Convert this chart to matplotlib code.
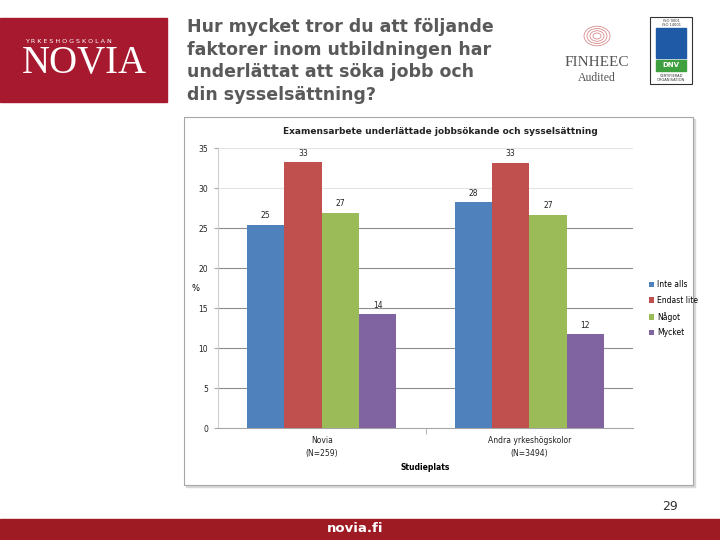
import numpy as np
import matplotlib
matplotlib.use("Agg")
import matplotlib.pyplot as plt
from matplotlib.patches import Rectangle, Circle

# data
groups = ["Novia\n(N=259)", "Andra yrkeshögskolor\n(N=3494)"]
series = ["Inte alls", "Endast lite", "Något", "Mycket"]
novia = [25.4, 33.2, 26.9, 14.2]
andra = [28.2, 33.1, 26.6, 11.7]
yticks = [0, 5, 10, 15, 20, 25, 30, 35]
colors = ["#4F81BD", "#C0504D", "#9BBB59", "#8064A2"]

W, H = 720, 540
def fx(x): return x / W
def fy(y): return 1 - y / H

fig = plt.figure(figsize=(7.2, 5.4), dpi=100)
fig.patch.set_facecolor("white")

# slide header: Novia logo
fig.patches.append(Rectangle((0, fy(102)), fx(167), (102 - 18) / H,
                             transform=fig.transFigure, color="#A6192E", zorder=0))
fig.text(fx(25), fy(42), "Y R K E S H O G S K O L A N", color="white", fontsize=4.6,
         va="center", ha="left")
fig.text(fx(22), fy(64), "NOVIA", color="white", fontsize=28, family="Liberation Serif",
         va="center", ha="left")

# slide title
fig.text(fx(187), fy(18), "Hur mycket tror du att följande\nfaktorer inom utbildningen har\n"
         "underlättat att söka jobb och\ndin sysselsättning?",
         fontsize=12.5, fontweight="bold", color="#595959", family="DejaVu Sans",
         va="top", ha="left", linespacing=1.33)

# FINHEEC logo
for r in [4, 7, 10, 13]:
    fig.patches.append(Circle((fx(597), fy(36)), r / W, transform=fig.transFigure,
                              fill=False, ec="#D98C8C", lw=0.6))
fig.text(fx(597), fy(63), "FINHEEC", fontsize=11, family="Liberation Serif",
         color="#555555", ha="center", va="center")
fig.text(fx(597), fy(78), "Audited", fontsize=8.5, family="Liberation Serif",
         color="#555555", ha="center", va="center")

# DNV logo
fig.patches.append(Rectangle((fx(650), fy(84)), fx(42), 67 / H, transform=fig.transFigure,
                             fill=False, ec="#333333", lw=0.8))
fig.text(fx(671), fy(23), "ISO 9001\nISO 14001", fontsize=2.6, ha="center", va="center",
         color="#333333", linespacing=1.0)
fig.patches.append(Rectangle((fx(656), fy(58)), fx(30), 30 / H, transform=fig.transFigure,
                             color="#1F5AA6"))
fig.patches.append(Rectangle((fx(656), fy(71)), fx(30), 11 / H, transform=fig.transFigure,
                             color="#3FA040"))
fig.text(fx(671), fy(65.5), "DNV", fontsize=5, fontweight="bold", color="white",
         ha="center", va="center")
fig.text(fx(671), fy(78), "CERTIFIERAD\nORGANISATION", fontsize=2.6, ha="center",
         va="center", color="#333333", linespacing=1.0)

# chart frame
fig.patches.append(Rectangle((fx(186), fy(487)), fx(509), 368 / H, transform=fig.transFigure,
                             color="#D8D8D8", zorder=0))
fig.patches.append(Rectangle((fx(184), fy(485)), fx(509), 368 / H, transform=fig.transFigure,
                             fc="white", ec="#A6A6A6", lw=0.8, zorder=0))

ax = fig.add_axes([fx(218), fy(428), fx(415), 280 / H])
ax.set_zorder(5)
ax.set_facecolor("none")
x = np.arange(len(groups))
bw = 0.18
for i, name in enumerate(series):
    vals = [novia[i], andra[i]]
    pos = x + (i - 1.5) * bw
    ax.bar(pos, vals, width=bw, color=colors[i], label=name, zorder=3)
    for p, v in zip(pos, vals):
        ax.text(p, v + 0.6, f"{v:.0f}", ha="center", va="bottom", fontsize=5.5,
                color="#222222", zorder=4)

ax.set_xlim(-0.5, 1.5)
ax.set_ylim(0, 35)
ax.set_yticks(yticks)
ax.set_yticklabels([str(t) for t in yticks], fontsize=5.5, color="#222222")
ax.tick_params(axis="y", length=3, color="#A6A6A6", pad=4)
for t in yticks[1:]:
    ax.axhline(t, color="#8C8C8C" if t <= 25 else "#E3E3E3", lw=0.8, zorder=1)
ax.set_xticks(x)
ax.set_xticklabels(groups, fontsize=5.5, color="#222222", linespacing=1.5)
ax.tick_params(axis="x", length=0, pad=6)
ax.set_xticks([0.5], minor=True)
ax.tick_params(axis="x", which="minor", length=4, color="#A6A6A6")
for s in ["top", "right"]:
    ax.spines[s].set_visible(False)
ax.spines["left"].set_color("#D0D0D0")
ax.spines["bottom"].set_color("#A6A6A6")
ax.set_ylabel("%", rotation=0, fontsize=6, labelpad=2, va="center")
ax.set_xlabel("Studieplats", fontsize=5.5, fontweight="bold", labelpad=4)

fig.text(fx(440), fy(131), "Examensarbete underlättade jobbsökande och sysselsättning",
         fontsize=6.5, fontweight="bold", ha="center", va="center", color="#222222")

fig.legend(loc="upper left", bbox_to_anchor=(fx(642), fy(273)), frameon=False,
           fontsize=5.5, handlelength=0.7, handleheight=0.7, handletextpad=0.4,
           labelspacing=0.9)

# footer
fig.text(fx(670), fy(507), "29", fontsize=9, color="#333333", ha="center", va="center")
fig.patches.append(Rectangle((0, 0), 1, 21 / H, transform=fig.transFigure, color="#9E1B24"))
fig.text(fx(355), fy(529), "novia.fi", fontsize=9.5, fontweight="bold", color="white",
         ha="center", va="center")

fig.savefig("out.png", dpi=100)
